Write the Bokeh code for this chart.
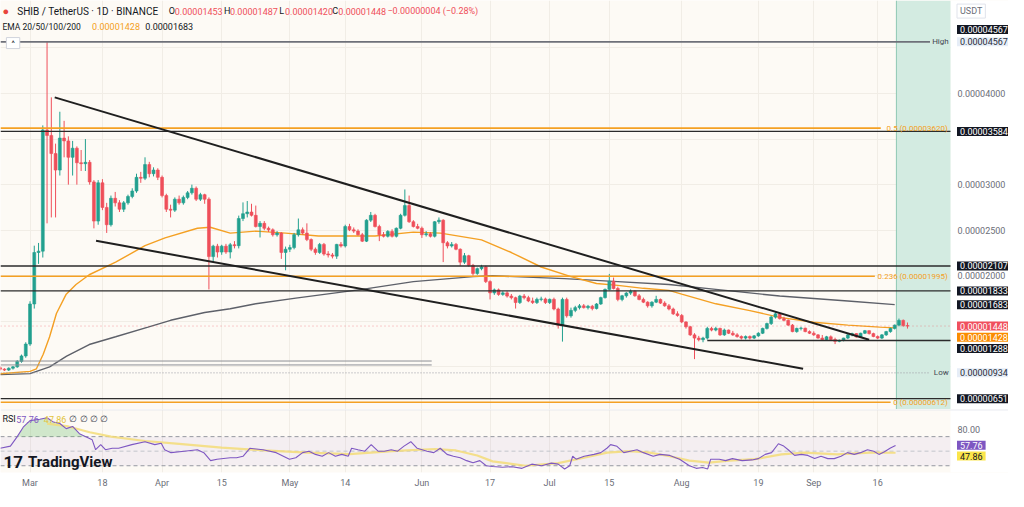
import numpy as np
from bokeh.plotting import figure
from bokeh.layouts import column
from bokeh.models import (Range1d, FixedTicker, PrintfTickFormatter, Label, Span,
                          BoxAnnotation, ColumnDataSource)
from bokeh.embed import file_html
from bokeh.resources import INLINE

UNIT = 1e-8  # prices below are in units of 0.00000001 USDT

# ---------------- data ----------------
DAY = list(range(-7, 207))  # days since 1 March
OPEN = [990, 975, 965, 985, 1000, 1060, 1120, 1250, 1690, 2255,
        2270, 3600, 3540, 3341, 3160, 3511, 3480, 3300, 3400, 3240,
        3230, 3245, 3030, 2600, 3020, 2750, 2560, 2850, 2800, 2730,
        2800, 2870, 2930, 3080, 3070, 3220, 3120, 3160, 3080, 2880,
        2730, 2720, 2840, 2800, 2860, 2910, 2960, 2840, 2890, 2840,
        2210, 2325, 2260, 2325, 2260, 2340, 2330, 2628, 2681, 2699,
        2663, 2540, 2575, 2521, 2504, 2450, 2468, 2256, 2291, 2309,
        2450, 2504, 2468, 2397, 2291, 2256, 2344, 2240, 2228, 2215,
        2344, 2327, 2540, 2504, 2490, 2450, 2380, 2610, 2663, 2540,
        2450, 2433, 2486, 2433, 2521, 2663, 2770, 2593, 2540, 2521,
        2450, 2460, 2433, 2593, 2610, 2362, 2327, 2344, 2291, 2149,
        2220, 2114, 2025, 2078, 2096, 1936, 1812, 1845, 1795, 1812,
        1777, 1759, 1706, 1777, 1759, 1723, 1706, 1741, 1745, 1706,
        1741, 1635, 1458, 1740, 1560, 1620, 1650, 1670, 1650, 1665,
        1640, 1690, 1760, 1850, 1940, 1860, 1740, 1780, 1810, 1830,
        1780, 1740, 1710, 1670, 1710, 1740, 1700, 1670, 1635, 1582,
        1564, 1493, 1440, 1351, 1316, 1298, 1316, 1422, 1404, 1422,
        1351, 1404, 1369, 1351, 1333, 1316, 1333, 1316, 1340, 1369,
        1422, 1475, 1546, 1582, 1529, 1511, 1458, 1387, 1422, 1425,
        1387, 1369, 1351, 1316, 1298, 1330, 1300, 1280, 1290, 1316,
        1351, 1365, 1328, 1369, 1397, 1365, 1333, 1316, 1351, 1387,
        1422, 1458, 1510, 1453]
HIGH = [1005, 985, 995, 1010, 1075, 1135, 1270, 1720, 2330, 2360,
        3650, 4567, 3958, 3450, 3800, 3700, 3530, 3480, 3420, 3380,
        3500, 3270, 3050, 3050, 3060, 2800, 2880, 2920, 2830, 2820,
        2890, 2960, 3120, 3140, 3300, 3250, 3190, 3180, 3100, 2900,
        2780, 2860, 2880, 2880, 2930, 3000, 2980, 2910, 2900, 2860,
        2340, 2350, 2340, 2350, 2360, 2380, 2660, 2805, 2820, 2790,
        2770, 2600, 2600, 2540, 2520, 2490, 2480, 2320, 2340, 2470,
        2628, 2530, 2575, 2410, 2310, 2360, 2360, 2270, 2250, 2350,
        2370, 2560, 2570, 2530, 2510, 2470, 2620, 2700, 2680, 2560,
        2480, 2500, 2510, 2530, 2680, 2947, 2880, 2610, 2570, 2540,
        2490, 2480, 2600, 2640, 2620, 2380, 2370, 2360, 2300, 2250,
        2230, 2130, 2090, 2120, 2110, 1950, 1860, 1860, 1830, 1830,
        1800, 1770, 1790, 1800, 1780, 1760, 1760, 1770, 1760, 1750,
        1760, 1650, 1760, 1760, 1650, 1670, 1690, 1690, 1680, 1680,
        1700, 1770, 1860, 2020, 1980, 1880, 1790, 1820, 1850, 1840,
        1800, 1760, 1720, 1720, 1780, 1750, 1720, 1690, 1650, 1610,
        1580, 1500, 1450, 1370, 1340, 1330, 1440, 1440, 1440, 1430,
        1420, 1410, 1395, 1370, 1345, 1345, 1345, 1350, 1380, 1430,
        1485, 1560, 1600, 1590, 1550, 1520, 1470, 1430, 1440, 1430,
        1400, 1390, 1360, 1350, 1340, 1345, 1320, 1300, 1320, 1360,
        1375, 1370, 1375, 1405, 1400, 1375, 1345, 1360, 1395, 1430,
        1465, 1530, 1520, 1487]
LOW = [960, 955, 955, 970, 990, 1045, 1100, 1230, 1640, 2130,
       2200, 2575, 2640, 2640, 3100, 3300, 3000, 3100, 3000, 3150,
       3150, 3000, 2520, 2560, 2720, 2470, 2540, 2760, 2700, 2700,
       2780, 2850, 2910, 3020, 3050, 3080, 3090, 3050, 2860, 2700,
       2640, 2700, 2780, 2780, 2840, 2890, 2820, 2820, 2790, 1850,
       2150, 2200, 2230, 2240, 2190, 2300, 2300, 2600, 2640, 2650,
       2530, 2420, 2500, 2480, 2430, 2430, 2185, 2060, 2260, 2290,
       2430, 2450, 2380, 2270, 2230, 2240, 2220, 2200, 2190, 2185,
       2310, 2310, 2490, 2470, 2440, 2370, 2370, 2590, 2530, 2380,
       2420, 2420, 2420, 2420, 2510, 2650, 2580, 2530, 2510, 2415,
       2430, 2420, 2420, 2570, 2150, 2300, 2310, 2280, 2110, 2130,
       2100, 2000, 2010, 2060, 1920, 1740, 1790, 1780, 1780, 1760,
       1740, 1640, 1690, 1740, 1710, 1690, 1690, 1720, 1690, 1690,
       1620, 1420, 1277, 1540, 1540, 1600, 1630, 1640, 1630, 1620,
       1630, 1680, 1750, 1840, 1850, 1720, 1720, 1760, 1790, 1770,
       1730, 1700, 1650, 1650, 1700, 1690, 1660, 1620, 1570, 1550,
       1480, 1420, 1340, 1085, 1280, 1270, 1300, 1390, 1390, 1340,
       1340, 1360, 1340, 1320, 1300, 1300, 1300, 1305, 1330, 1360,
       1410, 1460, 1530, 1520, 1500, 1450, 1380, 1375, 1400, 1380,
       1360, 1340, 1310, 1290, 1290, 1290, 1250, 1270, 1280, 1305,
       1335, 1320, 1320, 1360, 1355, 1325, 1305, 1305, 1340, 1375,
       1410, 1445, 1440, 1420]
CLOSE = [975, 965, 985, 1000, 1060, 1120, 1250, 1690, 2255, 2270,
         3600, 3540, 3341, 3160, 3511, 3480, 3300, 3400, 3240, 3230,
         3245, 3030, 2600, 3020, 2750, 2560, 2850, 2800, 2730, 2800,
         2870, 2930, 3080, 3070, 3220, 3120, 3160, 3080, 2880, 2730,
         2720, 2840, 2800, 2860, 2910, 2960, 2840, 2890, 2840, 2210,
         2325, 2260, 2325, 2260, 2340, 2330, 2628, 2681, 2699, 2663,
         2540, 2575, 2521, 2504, 2450, 2468, 2256, 2291, 2309, 2450,
         2504, 2468, 2397, 2291, 2256, 2344, 2238, 2228, 2215, 2344,
         2327, 2540, 2504, 2490, 2450, 2380, 2610, 2663, 2540, 2450,
         2433, 2486, 2433, 2521, 2663, 2770, 2593, 2540, 2521, 2450,
         2460, 2433, 2593, 2610, 2362, 2327, 2344, 2291, 2149, 2220,
         2114, 2025, 2078, 2096, 1936, 1812, 1845, 1795, 1812, 1777,
         1759, 1706, 1777, 1759, 1723, 1706, 1741, 1745, 1706, 1741,
         1635, 1458, 1740, 1560, 1620, 1650, 1670, 1650, 1665, 1640,
         1690, 1760, 1850, 1940, 1860, 1740, 1780, 1810, 1830, 1780,
         1740, 1710, 1670, 1710, 1740, 1700, 1670, 1635, 1582, 1564,
         1493, 1440, 1351, 1316, 1298, 1316, 1422, 1404, 1422, 1351,
         1404, 1369, 1351, 1333, 1316, 1333, 1316, 1340, 1369, 1422,
         1475, 1546, 1582, 1529, 1511, 1458, 1387, 1422, 1425, 1387,
         1369, 1351, 1316, 1298, 1330, 1300, 1280, 1290, 1316, 1351,
         1365, 1328, 1369, 1397, 1365, 1333, 1316, 1351, 1387, 1422,
         1458, 1510, 1453, 1448]

EMA_FAST_DAY = [-7, 0, 1.5, 3.1, 4.6, 6.2, 8.5, 10.8, 13.9, 20.1, 27, 31.7, 39.3, 42.3,
                47, 53, 60, 67.7, 74, 81, 90, 96.4, 106, 113, 120, 127, 133, 138, 144,
                150, 153, 161, 169, 176, 184, 192, 199.5, 203]
EMA_FAST = [925, 950, 979, 1138, 1330, 1585, 1798, 1904, 2011, 2149, 2330, 2415, 2521, 2532,
            2468, 2490, 2468, 2436, 2436, 2436, 2479, 2468, 2394, 2255, 2096, 1990, 1915, 1894, 1862,
            1840, 1798, 1692, 1617, 1543, 1489, 1458, 1436, 1428]
EMA_SLOW_DAY = [-7, 0, 4.6, 8.6, 13.9, 20.1, 27.7, 33, 41, 47, 53, 62.4, 78, 90, 104, 108.6,
                125.5, 138, 150, 161, 176, 192, 203]
EMA_SLOW = [915, 926, 1000, 1117, 1245, 1330, 1436, 1511, 1596, 1638, 1692, 1755, 1851, 1936,
            1990, 2000, 1968, 1936, 1904, 1851, 1777, 1723, 1683]

RSI_DAY = [-7, -4.6, -3, -1.6, 0, 2.3, 4, 5.5, 7, 8.5, 10, 11.6, 13.1, 14.6, 15.4, 16.6, 17.7,
           19.3, 20.8, 23.9, 27, 29.3, 30.8, 31.6, 33.1, 36.2, 39.3, 40.8, 42.4, 43.9, 47, 48.5,
           50, 51.6, 54.7, 57.8, 60.9, 62.4, 64, 65.5, 67, 68.6, 70.1, 71.7, 73.2, 74.7, 75.5,
           77, 78.6, 80.1, 81.7, 83.2, 84.8, 86.3, 87.8, 89.4, 90.9, 93.2, 94.8, 96.3, 97.9,
           99.4, 101, 102.5, 104, 105.6, 107.1, 108.6, 110.9, 113.2, 115.5, 117.8, 120.1,
           122.4, 124, 125.5, 126.7, 127.4, 128.2, 130.1, 132.4, 134, 135.5, 136.3, 137.8,
           139.4, 140.9, 142.5, 144, 146.3, 147.9, 150.2, 152.5, 154.8, 156.4, 157.9, 159.1,
           159.8, 161.8, 163.3, 164.9, 167.2, 169.5, 171, 172.6, 174.1, 175.7, 176.8, 178,
           179.5, 181.1, 182.6, 184.2, 185.7, 187.3, 188.8, 190.4, 191.9, 193.5, 195, 196.6,
           198.1, 199.3, 200.5, 202, 203.2]
RSI_VAL = [54, 57, 70, 83, 92, 94, 96, 90, 88, 81, 84, 74, 70, 65.6, 52, 59, 52,
           54, 54, 59, 63, 59, 61, 52, 48, 50, 52, 48, 37, 39, 41, 41,
           43, 54, 52, 48, 39, 41, 48, 50, 45.6, 43, 48, 43, 45.6, 43, 54,
           52, 50, 59, 50, 50, 52, 50, 57, 63, 54, 50, 48, 54, 45.6,
           43, 41, 37, 34, 37, 30, 29, 28, 28.7, 26.4, 32.2, 30,
           33.6, 32.2, 25.6, 30, 43, 39, 43, 45.6, 48, 54.4, 59, 56.7,
           48, 50, 52, 48, 43, 45.6, 44.2, 39, 30, 26.4, 27.5, 25.6,
           39, 39, 37, 39.8, 37, 38, 39.8, 45.6, 48, 60.2, 57.6, 52,
           44.2, 45.6, 44.2, 39.8, 43, 39.8, 39.8, 43, 48, 45.6, 48, 52,
           50, 45.6, 49, 54.4, 57.76]
RSI_MA_DAY = [4, 9, 14, 19, 27, 35, 45, 55, 65, 75, 85, 95, 100, 105, 108.6, 116.3, 124,
              131.7, 135.5, 140.9, 145.5, 150.2, 154.8, 159.4, 164.1, 170.2, 176.4, 181.8,
              189.5, 197.2, 203.2]
RSI_MA = [88, 84, 76, 70, 64, 60, 55, 51, 48, 46, 50, 53, 51, 44, 36, 30, 33.6,
          43, 48, 50, 48, 43, 37, 34.4, 37, 39, 45.6, 48,
          45.6, 48, 47.86]

TICK_DAYS = [0, 17, 31, 45, 61, 74, 92, 108, 122, 136, 153, 171, 184, 199]
TICK_LABELS = ["Mar", "18", "Apr", "15", "May", "14", "Jun", "17", "Jul", "15", "Aug", "19", "Sep", "16"]
PRICE_TICKS = [2000, 2500, 3000, 4000]
GRID_TICKS = [1000, 1500, 2000, 2500, 3000, 3500, 4000, 4500]

TREND_UPPER_DAY = [5.8, 197]
TREND_UPPER = [3958, 1298]
TREND_LOWER_DAY = [15.5, 181.5]
TREND_LOWER = [2383, 979]

LEVEL_HIGH = 4567
LEVEL_LOW = 934
BLACK_LEVELS = [3584, 2107, 1833, 651]
SUPPORT = 1288
SUPPORT_START = 159
FIB_LEVELS = [3620, 1995, 612]
FIB_TEXT = ["0.5 (0.00003620)", "0.236 (0.00001995)", "0 (0.00000612)"]
RANGE_BOX = [1021, 1064]
RANGE_BOX_END = 94.3
LAST_PRICE = 1448
EMA_FAST_LAST = 1428
EMA_SLOW_LAST = 1683
RSI_LAST = 57.76
RSI_MA_LAST = 47.86
HIGHLIGHT_START = 203.4

# ---------------- layout constants ----------------
FONT = "Roboto"
BG = "#fdfaf5"
UP = "#22a08f"
DOWN = "#ef4f5a"
BLACK = "#2b2b2b"
ORANGE = "#f4a023"
GRAYTXT = "#6b6e78"
W = 1008
PRICE_H = 409
RSI_H = 82
X0, X1 = -6.93, 216.1            # X1 = boundary between chart and price scale
PX_DAY = 950 / (X1 - X0)
X_END = X0 + W / PX_DAY          # frame spans the full width, price scale drawn inside
P_LO, P_HI = 532 * UNIT, 5021 * UNIT
R_LO, R_HI = 20.7, 107.3


def xd(xr):
    return X0 + xr / 4.326


def py(yr):
    return (1000 + (378 - yr) * 10.64) * UNIT


def ry(yr):
    return 50 + (465 - yr) / 0.75


AX_TEXT = X1 + 6.5 / PX_DAY


def label(fig, x, y, text, color, size="9px", align="left", bg=None, border=None,
          bold=False, font=FONT, pad=(3, 1)):
    kw = dict(x=x, y=y, text=text, text_color=color, text_font=font, text_font_size=size,
              text_align=align, text_baseline="middle")
    if bold:
        kw["text_font_style"] = "bold"
    if bg is not None:
        kw.update(background_fill_color=bg, background_fill_alpha=1.0, padding=pad)
    if border is not None:
        kw.update(border_line_color=border, border_line_alpha=1.0, border_line_width=1)
    fig.add_layout(Label(**kw))


def style_axis(ax):
    ax.axis_line_color = None
    ax.major_tick_line_color = None
    ax.minor_tick_line_color = None
    ax.major_tick_out = 0
    ax.major_tick_in = 0
    ax.major_label_text_font = FONT
    ax.major_label_text_font_size = "9px"
    ax.major_label_text_color = GRAYTXT


# ---------------- price pane ----------------
p = figure(width=W, height=PRICE_H, x_range=Range1d(X0, X_END), y_range=Range1d(P_LO, P_HI),
           output_backend="svg", toolbar_location=None, y_axis_location="right",
           x_axis_location=None, min_border_left=0, min_border_top=0, min_border_bottom=0,
           min_border_right=0, background_fill_color=BG, border_fill_color="white",
           outline_line_color=None)
p.yaxis.fixed_location = X1
p.yaxis.ticker = FixedTicker(ticks=[t * UNIT for t in PRICE_TICKS])
p.yaxis.formatter = PrintfTickFormatter(format="%.8f")
style_axis(p.yaxis)
p.yaxis.major_label_standoff = 7
p.ygrid.ticker = FixedTicker(ticks=[t * UNIT for t in GRID_TICKS])
p.ygrid.grid_line_color = "#f1ede6"
p.xgrid.ticker = FixedTicker(ticks=TICK_DAYS)
p.xgrid.grid_line_color = "#f1ede6"

# price-scale area (white) and highlighted date range
p.add_layout(BoxAnnotation(left=X1, fill_color="white", fill_alpha=1.0, line_color=None,
                           level="underlay"))
p.add_layout(BoxAnnotation(left=HIGHLIGHT_START, right=X1, fill_color="#d3ebe1", fill_alpha=1.0,
                           line_color=None, level="underlay"))
p.segment(x0=[HIGHLIGHT_START], y0=[P_LO], x1=[HIGHLIGHT_START], y1=[P_HI],
          line_color="#8fc7b3", line_width=1)

# EMAs
p.line(EMA_SLOW_DAY, np.array(EMA_SLOW) * UNIT, line_color="#5d6069", line_width=1.4)
p.line(EMA_FAST_DAY, np.array(EMA_FAST) * UNIT, line_color=ORANGE, line_width=1.4)

# candles
o = np.array(OPEN) * UNIT
c = np.array(CLOSE) * UNIT
src = ColumnDataSource(dict(
    x=DAY, high=np.array(HIGH) * UNIT, low=np.array(LOW) * UNIT,
    top=np.maximum(o, c), bottom=np.minimum(o, c),
    color=[UP if cc >= oo else DOWN for oo, cc in zip(OPEN, CLOSE)]))
p.segment(x0="x", y0="low", x1="x", y1="high", line_color="color", line_width=1, source=src)
p.vbar(x="x", width=0.68, top="top", bottom="bottom", fill_color="color",
       line_color="color", line_width=0.6, source=src)

# horizontal levels
n = len(BLACK_LEVELS)
p.segment(x0=[X0] * n, y0=[v * UNIT for v in BLACK_LEVELS], x1=[X1] * n,
          y1=[v * UNIT for v in BLACK_LEVELS], line_color=BLACK, line_width=1.3)
p.segment(x0=[SUPPORT_START], y0=[SUPPORT * UNIT], x1=[X1], y1=[SUPPORT * UNIT],
          line_color=BLACK, line_width=1.5)
p.segment(x0=[X0], y0=[LEVEL_HIGH * UNIT], x1=[xd(944)], y1=[LEVEL_HIGH * UNIT],
          line_color="#6e7079", line_width=1.6)
p.segment(x0=[X0], y0=[LEVEL_LOW * UNIT], x1=[xd(944)], y1=[LEVEL_LOW * UNIT],
          line_color="#9a9ca5", line_width=1, line_dash="1 2")
p.segment(x0=[X0, X0], y0=[v * UNIT for v in RANGE_BOX], x1=[RANGE_BOX_END] * 2,
          y1=[v * UNIT for v in RANGE_BOX], line_color="#8d8f96", line_width=1)
fib_end = [xd(894), xd(888), xd(904)]
p.segment(x0=[X0] * 3, y0=[v * UNIT for v in FIB_LEVELS], x1=fib_end,
          y1=[v * UNIT for v in FIB_LEVELS], line_color=ORANGE, line_width=1.6)
p.segment(x0=[X0], y0=[LAST_PRICE * UNIT], x1=[X1], y1=[LAST_PRICE * UNIT], line_color=DOWN,
          line_alpha=0.55, line_width=1, line_dash="1 3")

# trend lines
p.line(TREND_UPPER_DAY, np.array(TREND_UPPER) * UNIT, line_color="#1f1f1f", line_width=2)
p.line(TREND_LOWER_DAY, np.array(TREND_LOWER) * UNIT, line_color="#1f1f1f", line_width=2)

# level texts inside the pane
for lv, txt in zip(FIB_LEVELS, FIB_TEXT):
    label(p, xd(962), lv * UNIT, txt, ORANGE, size="8px", align="right")
label(p, xd(963), LEVEL_HIGH * UNIT, "High", "#434651", size="8px", align="right")
label(p, xd(963), LEVEL_LOW * UNIT, "Low", "#434651", size="8px", align="right")

# price-scale boxes
AXIS_BOXES = [
    (py(30), "0.%08d" % LEVEL_HIGH, "#131722", "white"),
    (LEVEL_HIGH * UNIT, "0.%08d" % LEVEL_HIGH, "#e6edf7", "#2a2e39"),
    (3584 * UNIT, "0.%08d" % 3584, "#131722", "white"),
    (2107 * UNIT, "0.%08d" % 2107, "#131722", "white"),
    (1833 * UNIT, "0.%08d" % 1833, "#131722", "white"),
    (EMA_SLOW_LAST * UNIT, "0.%08d" % EMA_SLOW_LAST, "#131722", "white"),
    (LAST_PRICE * UNIT, "0.%08d" % LAST_PRICE, "#f0505d", "white"),
    (py(347.5), "0.%08d" % EMA_FAST_LAST, "#fb8c00", "white"),
    (py(359), "0.%08d" % SUPPORT, "#131722", "white"),
    (LEVEL_LOW * UNIT, "0.%08d" % LEVEL_LOW, "#e6edf7", "#2a2e39"),
    (651 * UNIT, "0.%08d" % 651, "#131722", "white"),
]
for yv, txt, bg, fg in AXIS_BOXES:
    label(p, AX_TEXT, yv, txt, fg, bg=bg)
label(p, AX_TEXT, py(11), "USDT", GRAYTXT, bg="white", border="#e0e3eb", pad=(3, 2))

# header
Y1, Y2 = py(11), py(27)
label(p, xd(2), Y1, "●", "#e8453c", size="11px")
label(p, xd(17), Y1, "SHIB / TetherUS · 1D · BINANCE", "#131722", size="10px")
for xr, txt, col in [(171, "O", "#131722"), (177, "0.%08d" % OPEN[-1], DOWN),
                     (227, "H", "#131722"), (233, "0.%08d" % HIGH[-1], DOWN),
                     (283, "L", "#131722"), (289, "0.%08d" % LOW[-1], DOWN),
                     (337, "C", "#131722"), (343, "0.%08d" % CLOSE[-1], DOWN),
                     (393, "\u22120.00000004 (\u22120.28%)", DOWN)]:
    label(p, xd(xr), Y1, txt, col)
label(p, xd(2), Y2, "EMA 20/50/100/200", "#131722", size="8.5px")
label(p, xd(93), Y2, "0.%08d" % EMA_FAST_LAST, ORANGE)
label(p, xd(147), Y2, "0.%08d" % EMA_SLOW_LAST, "#131722")
label(p, xd(6), py(44), "^", "#131722", size="8px", bg="white", border="#d1d4dc", pad=(5, 1))

# ---------------- RSI pane ----------------
r = figure(width=W, height=RSI_H, x_range=p.x_range, y_range=Range1d(R_LO, R_HI),
           output_backend="svg", toolbar_location=None, y_axis_location="right",
           min_border_left=0, min_border_top=0, min_border_bottom=19, min_border_right=0,
           background_fill_color=BG, border_fill_color="white", outline_line_color=None)
r.yaxis.fixed_location = X1
r.yaxis.ticker = FixedTicker(ticks=[80])
r.yaxis.formatter = PrintfTickFormatter(format="%.2f")
style_axis(r.yaxis)
style_axis(r.xaxis)
r.yaxis.major_label_standoff = 7
r.xaxis.ticker = FixedTicker(ticks=TICK_DAYS)
r.xaxis.major_label_overrides = {d: t for d, t in zip(TICK_DAYS, TICK_LABELS)}
r.xaxis.major_label_standoff = 5
r.ygrid.grid_line_color = None
r.xgrid.ticker = FixedTicker(ticks=TICK_DAYS)
r.xgrid.grid_line_color = "#f1ede6"

r.add_layout(BoxAnnotation(left=X1, fill_color="white", fill_alpha=1.0, line_color=None,
                           level="underlay"))
r.add_layout(Span(location=R_HI - 0.5, dimension="width", line_color="#e0e3eb", line_width=1))
r.add_layout(BoxAnnotation(bottom=30, top=70, right=X1, fill_color="#7e57c2", fill_alpha=0.07,
                           line_color=None, level="underlay"))
r.segment(x0=[X0] * 3, y0=[70, 50, 30], x1=[X1] * 3, y1=[70, 50, 30],
          line_color=["#9598a1", "#c3c5cc", "#9598a1"], line_width=1, line_dash="4 3")
rsi = np.array(RSI_VAL)
r.varea(x=RSI_DAY, y1=np.full(len(rsi), 70.0), y2=np.maximum(rsi, 70.0),
        fill_color="#5cb85c", fill_alpha=0.28)
r.line(RSI_MA_DAY, RSI_MA, line_color="#f3dc78", line_width=2.2, line_alpha=0.85)
r.line(RSI_DAY, RSI_VAL, line_color="#7e57c2", line_width=1.1)

YR = ry(432)
label(r, xd(2), YR, "RSI", "#131722")
label(r, xd(16), YR, "%.2f" % RSI_LAST, "#7e57c2")
label(r, xd(44), YR, "%.2f" % RSI_MA_LAST, "#e2c43a")
label(r, xd(70), YR, "\u2205 \u2205 \u2205 \u2205", "#434651")
label(r, xd(3), ry(476), "17", "#131722", size="17px", bold=True)
label(r, xd(28), ry(476), "TradingView", "#131722", size="15px", bold=True)
label(r, AX_TEXT, ry(459), "%.2f" % RSI_LAST, "white", bg="#7e57c2")
label(r, AX_TEXT, ry(470), "%.2f" % RSI_MA_LAST, "#131722", bg="#fbe54a")

layout = column(p, r, spacing=0)
open("out.html", "w").write(file_html(layout, INLINE))
